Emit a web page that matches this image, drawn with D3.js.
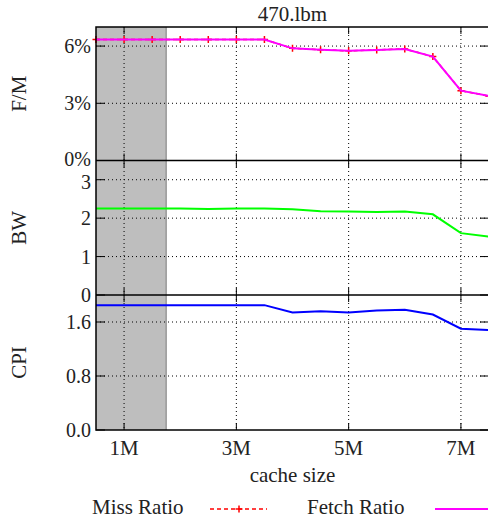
<!DOCTYPE html>
<html>
<head>
<meta charset="utf-8">
<script src="https://cdn.jsdelivr.net/npm/d3@7/dist/d3.min.js"></script>
<style>
  body { margin: 0; background: #fff; }
  svg text { font-family: "Liberation Serif", "DejaVu Serif", serif; fill: #222; }
</style>
</head>
<body>
<svg id="chart" width="488" height="520"></svg>
<script>
// cache sizes in MB
const sizes = [0.5, 1, 1.5, 2, 2.5, 3, 3.5, 4, 4.5, 5, 5.5, 6, 6.5, 7, 7.5];
// fetch / miss ratio in percent
const fetchRatio = [6.34, 6.34, 6.34, 6.34, 6.34, 6.34, 6.34, 5.88, 5.81, 5.75, 5.8, 5.85, 5.45, 3.66, 3.38];
const missRatio = [6.34, 6.34, 6.34, 6.34, 6.34, 6.34, 6.34, 5.88, 5.81, 5.75, 5.8, 5.85, 5.45, 3.66, 3.38];
// bandwidth
const bw = [2.25, 2.25, 2.25, 2.25, 2.24, 2.25, 2.25, 2.23, 2.18, 2.17, 2.16, 2.17, 2.1, 1.61, 1.52];
// cycles per instruction
const cpi = [1.85, 1.85, 1.85, 1.85, 1.85, 1.85, 1.85, 1.74, 1.76, 1.74, 1.77, 1.78, 1.71, 1.5, 1.48];

const xTicks = [1, 3, 5, 7];
const xTickLabels = ['1M', '3M', '5M', '7M'];
const shadeRange = [0.5, 1.75];

const svg = d3.select('#chart');
const plotLeft = 96, plotRight = 489, plotTop = 27, plotBottom = 430;
const sep1 = 160.5, sep2 = 295;
const fontSize = 21;

const x = d3.scaleLinear().domain([0.5, 7.5]).range([plotLeft, plotRight]);

// three stacked panels (nudge = small label shift so stacked labels don't collide)
const panels = [
  { name: 'F/M', y: d3.scaleLinear().domain([0, 7]).range([sep1, plotTop]), ticks: [0, 3, 6], fmt: d => d + '%', nudge: d => d === 0 ? -2 : 0 },
  { name: 'BW', y: d3.scaleLinear().domain([0, 3.5]).range([sep2, sep1]), ticks: [0, 1, 2, 3], fmt: d => d, nudge: d => d === 3 ? 2 : 0 },
  { name: 'CPI', y: d3.scaleLinear().domain([0, 2]).range([plotBottom, sep2]), ticks: [0, 0.8, 1.6], fmt: d3.format('.1f'), nudge: d => 0 }
];

// shaded region
svg.append('rect')
  .attr('x', x(shadeRange[0])).attr('y', plotTop)
  .attr('width', x(shadeRange[1]) - x(shadeRange[0]))
  .attr('height', plotBottom - plotTop)
  .attr('fill', '#bebebe');
svg.append('line')
  .attr('x1', x(shadeRange[1])).attr('x2', x(shadeRange[1]))
  .attr('y1', plotTop).attr('y2', plotBottom)
  .attr('stroke', '#8a8a8a').attr('stroke-width', 1.2);

// grid lines
const grid = svg.append('g').attr('stroke', '#000').attr('stroke-width', 1).attr('stroke-dasharray', '1,3');
grid.selectAll('line.v').data(xTicks).enter().append('line')
  .attr('x1', d => x(d)).attr('x2', d => x(d))
  .attr('y1', plotTop).attr('y2', plotBottom);
panels.forEach(p => {
  grid.selectAll(null).data(p.ticks.filter(t => t > 0)).enter().append('line')
    .attr('x1', plotLeft).attr('x2', plotRight)
    .attr('y1', d => p.y(d)).attr('y2', d => p.y(d));
});

// data lines
const fm = panels[0].y, bwY = panels[1].y, cpiY = panels[2].y;
const lineOf = (ys, scale) => d3.line().x((d, i) => x(sizes[i])).y(d => scale(d))(ys);

svg.append('path').attr('d', lineOf(missRatio, fm))
  .attr('fill', 'none').attr('stroke', '#ff0000').attr('stroke-width', 1.5).attr('stroke-dasharray', '4,3');
svg.append('g').selectAll('path').data(missRatio).enter().append('path')
  .attr('d', (d, i) => `M${x(sizes[i]) - 3.5},${fm(d)}h7M${x(sizes[i])},${fm(d) - 3.5}v7`)
  .attr('stroke', '#ff0000').attr('stroke-width', 1.5);
svg.append('path').attr('d', lineOf(fetchRatio, fm))
  .attr('fill', 'none').attr('stroke', '#ff00ff').attr('stroke-width', 2);
svg.append('path').attr('d', lineOf(bw, bwY))
  .attr('fill', 'none').attr('stroke', '#00ff00').attr('stroke-width', 2);
svg.append('path').attr('d', lineOf(cpi, cpiY))
  .attr('fill', 'none').attr('stroke', '#0000ff').attr('stroke-width', 2);

// frame and panel separators
const frame = svg.append('g').attr('stroke', '#000').attr('stroke-width', 1.5).attr('fill', 'none');
frame.append('rect').attr('x', plotLeft).attr('y', plotTop).attr('width', plotRight - plotLeft).attr('height', plotBottom - plotTop);
[sep1, sep2].forEach(yy => {
  frame.append('line').attr('x1', plotLeft).attr('x2', plotRight).attr('y1', yy).attr('y2', yy);
});

// x ticks on every horizontal edge
const tickLen = 7;
const ticks = svg.append('g').attr('stroke', '#000').attr('stroke-width', 1);
xTicks.forEach(t => {
  ticks.append('line').attr('x1', x(t)).attr('x2', x(t)).attr('y1', plotTop).attr('y2', plotTop + tickLen);
  ticks.append('line').attr('x1', x(t)).attr('x2', x(t)).attr('y1', plotBottom - tickLen).attr('y2', plotBottom);
  [sep1, sep2].forEach(yy => {
    ticks.append('line').attr('x1', x(t)).attr('x2', x(t)).attr('y1', yy - tickLen).attr('y2', yy + tickLen);
  });
});

// y axes: inward ticks on both sides, labels on left
panels.forEach(p => {
  p.ticks.forEach(t => {
    ticks.append('line').attr('x1', plotLeft).attr('x2', plotLeft + 9).attr('y1', p.y(t)).attr('y2', p.y(t));
    ticks.append('line').attr('x1', plotRight - 9).attr('x2', plotRight).attr('y1', p.y(t)).attr('y2', p.y(t));
  });
  svg.append('g').selectAll('text').data(p.ticks).enter().append('text')
    .attr('x', 91).attr('y', d => p.y(d) + p.nudge(d)).attr('dy', '0.35em')
    .attr('text-anchor', 'end').attr('font-size', 20)
    .text(p.fmt);
  const mid = (p.y.range()[0] + p.y.range()[1]) / 2;
  svg.append('text')
    .attr('transform', `translate(26,${mid}) rotate(-90)`)
    .attr('text-anchor', 'middle').attr('font-size', fontSize)
    .text(p.name);
});

// x tick labels
svg.append('g').selectAll('text').data(xTicks).enter().append('text')
  .attr('x', d => x(d)).attr('y', 455)
  .attr('text-anchor', 'middle').attr('font-size', fontSize)
  .text((d, i) => xTickLabels[i]);

svg.append('text').attr('x', (plotLeft + plotRight) / 2).attr('y', 482)
  .attr('text-anchor', 'middle').attr('font-size', fontSize).text('cache size');

svg.append('text').attr('x', (plotLeft + plotRight) / 2).attr('y', 21)
  .attr('text-anchor', 'middle').attr('font-size', fontSize).text('470.lbm');

// legend
svg.append('text').attr('x', 92).attr('y', 514).attr('font-size', fontSize).text('Miss Ratio');
svg.append('line').attr('x1', 210).attr('x2', 267).attr('y1', 509).attr('y2', 509)
  .attr('stroke', '#ff0000').attr('stroke-width', 1.5).attr('stroke-dasharray', '4,3');
svg.append('path').attr('d', 'M235.5,509h7M239,505.5v7').attr('stroke', '#ff0000').attr('stroke-width', 1.5);
svg.append('text').attr('x', 307).attr('y', 514).attr('font-size', fontSize).text('Fetch Ratio');
svg.append('line').attr('x1', 435).attr('x2', 490).attr('y1', 509).attr('y2', 509)
  .attr('stroke', '#ff00ff').attr('stroke-width', 2);
</script>
</body>
</html>
